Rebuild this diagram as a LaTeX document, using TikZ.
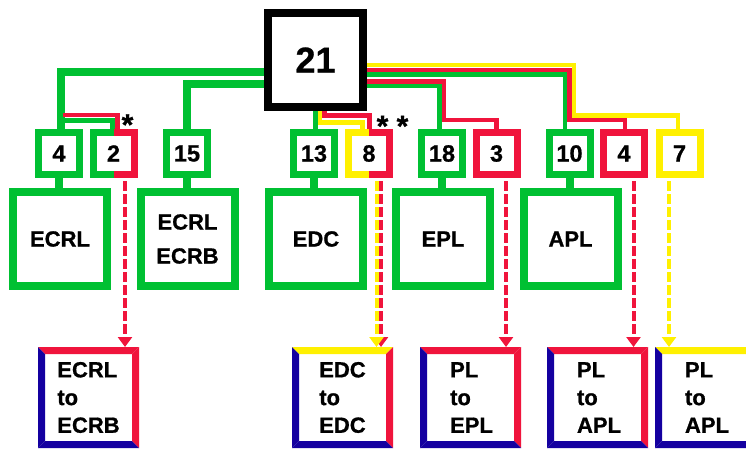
\documentclass[tikz,border=0pt]{standalone}
\usepackage{fontspec}
\setmainfont{Liberation Sans}[BoldFeatures={FakeBold=0.8}]
\usetikzlibrary{calc,arrows.meta}
\definecolor{cg}{RGB}{0,192,50}
\definecolor{cr}{RGB}{240,20,60}
\definecolor{cy}{RGB}{255,240,0}
\definecolor{cb}{RGB}{20,0,160}
% frame with four coloured sides: name, top, right, bottom, left
\newcommand\colframe[5]{%
  \fill[#2] (#1.north west) -- (#1.north east) -- ($(#1.north east)+(-7,7)$) -- ($(#1.north west)+(7,7)$) -- cycle;
  \fill[#3] (#1.north east) -- (#1.south east) -- ($(#1.south east)+(-7,-7)$) -- ($(#1.north east)+(-7,7)$) -- cycle;
  \fill[#4] (#1.south east) -- (#1.south west) -- ($(#1.south west)+(7,-7)$) -- ($(#1.south east)+(-7,-7)$) -- cycle;
  \fill[#5] (#1.south west) -- (#1.north west) -- ($(#1.north west)+(7,7)$) -- ($(#1.south west)+(7,-7)$) -- cycle;
}
% small box drawn in two halves: name, left colour, right colour
\newcommand\halfbox[3]{%
  \draw[#2,line width=7pt] ($(#1.north)+(0,3.5)$) -- ($(#1.north west)+(3.5,3.5)$) -- ($(#1.south west)+(3.5,-3.5)$) -- ($(#1.south)+(0,-3.5)$);
  \draw[#3,line width=7pt] ($(#1.north)+(0,3.5)$) -- ($(#1.north east)+(-3.5,3.5)$) -- ($(#1.south east)+(-3.5,-3.5)$) -- ($(#1.south)+(0,-3.5)$);
}
\begin{document}
\begin{tikzpicture}[x=1pt,y=-1pt,
  sbox/.style={draw, line width=7pt, minimum width=41pt, minimum height=42pt, inner sep=0pt,
    font=\fontsize{23.5}{24}\selectfont\bfseries},
  bigbox/.style={draw=cg, line width=8pt, minimum size=94pt, inner sep=0pt, align=center,
    font=\fontsize{22}{34}\selectfont\bfseries},
  botbox/.style={minimum size=101pt, inner sep=0pt, outer sep=0pt, align=left,
    font=\fontsize{22}{27.7}\selectfont\bfseries},
  gthick/.style={draw=cg, line width=8pt},
  gline/.style={draw=cg, line width=4.6pt},
  rline/.style={draw=cr, line width=4.6pt},
  yline/.style={draw=cy, line width=4.6pt},
  rdash/.style={draw=cr, line width=4pt, dash pattern=on 10pt off 3pt, -{Triangle[width=14pt,length=10pt]}},
  ydash/.style={draw=cy, line width=4pt, dash pattern=on 10pt off 3pt, -{Triangle[width=14pt,length=10pt]}},
  astx/.style={anchor=base, inner sep=0pt, font=\fontsize{30}{30}\selectfont\bfseries}
]
\clip (0,0) rectangle (746,450);
\fill[white] (0,0) rectangle (746,450);

% top box
\node[draw=black, line width=8pt, minimum width=95pt, minimum height=94pt, inner sep=0pt,
  font=\fontsize{36}{38}\selectfont\bfseries] (n21) at (315.5,60) {21};

% small boxes
\node[sbox, draw=cg] (b4) at (59,153.5) {4};
\node[sbox, draw=none] (b2) at (113.5,153.5) {2};
\node[sbox, draw=cg] (b15) at (187,153.5) {15};
\node[sbox, draw=cg] (b13) at (314,153.5) {13};
\node[sbox, draw=none] (b8) at (369,153.5) {8};
\node[sbox, draw=cg] (b18) at (442,153.5) {18};
\node[sbox, draw=cr] (b3) at (496.5,153.5) {3};
\node[sbox, draw=cg] (b10) at (569.5,153.5) {10};
\node[sbox, draw=cr] (b4r) at (624,153.5) {4};
\node[sbox, draw=cy] (b7) at (679.5,153.5) {7};
\halfbox{b2}{cg}{cr}
\halfbox{b8}{cy}{cr}

% big boxes
\node[bigbox] (g1) at (60,239) {ECRL};
\node[bigbox] (g2) at (187.5,239) {ECRL\\ECRB};
\node[bigbox] (g3) at (316,239) {EDC};
\node[bigbox] (g4) at (443,239) {EPL};
\node[bigbox] (g5) at (570.5,239) {APL};

% bottom boxes
\node[botbox] (f1) at (88.5,397.5) {ECRL\\to\\ECRB};
\node[botbox] (f2) at (342.5,397.5) {EDC\\to\\EDC};
\node[botbox] (f3) at (470.5,397.5) {\hspace*{2pt}PL\\\hspace*{2pt}to\\\hspace*{2pt}EPL};
\node[botbox] (f4) at (597.5,397.5) {\hspace*{3pt}PL\\\hspace*{3pt}to\\\hspace*{3pt}APL};
\node[botbox] (f5) at (705.5,397.5) {\hspace*{3pt}PL\\\hspace*{3pt}to\\\hspace*{3pt}APL};
\colframe{f1}{cr}{cr}{cb}{cb}
\colframe{f2}{cy}{cr}{cb}{cb}
\colframe{f3}{cr}{cr}{cb}{cb}
\colframe{f4}{cr}{cr}{cb}{cb}
\colframe{f5}{cy}{cy}{cb}{cb}

% asterisks
\node[astx] (s1) at (127.5,135) {*};
\node[astx] (s2) at (392.5,136.4) {* *};

% left connectors
\draw[gthick] (n21.west |- 0,72) -| ([xshift=2pt]b4.north);
\draw[gthick] (n21.west |- 0,83.5) -| (b15.north);
\draw[gline] ([xshift=4pt]b4.north |- 0,120.5) -| ([xshift=-1pt]b2.north);
\draw[rline] ([xshift=4pt]b4.north |- 0,115) -| ([xshift=4pt]b2.north);

% connectors below the top box
\draw[gline] ([xshift=1.5pt]b13.north |- n21.south) -- ([xshift=1.5pt]b13.north);
\draw[yline] ([xshift=6pt]b13.north |- n21.south) |- ([xshift=-6.5pt]b8.north |- 0,122.5) -- ([xshift=-6.5pt]b8.north);
\draw[rline] ([xshift=10.5pt]b13.north |- n21.south) |- ([xshift=0.5pt]b8.north |- 0,115.5) -- ([xshift=0.5pt]b8.north);

% right bundle A
\draw[yline] (n21.east |- 0,65) -| ([xshift=4.5pt]b10.north |- 0,115.5) -| ([xshift=-1.5pt]b7.north);
\draw[rline] (n21.east |- 0,70) -| (b10.north |- 0,120) -| ([xshift=1pt]b4r.north);
\draw[gline] (n21.east |- 0,74.5) -| ([xshift=-4.5pt]b10.north);

% right bundle B
\draw[rline] (n21.east |- 0,81.5) -| ([xshift=2pt]b18.north |- 0,120) -| (b3.north);
\draw[gline] (n21.east |- 0,86) -| ([xshift=-2.5pt]b18.north);

% stubs small -> big
\draw[gthick] (b4.south) -- (b4.south |- g1.north);
\draw[gthick] (b15.south) -- (b15.south |- g2.north);
\draw[gthick] (b13.south) -- (b13.south |- g3.north);
\draw[gthick] (b18.south) -- (b18.south |- g4.north);
\draw[gthick] (b10.south) -- (b10.south |- g5.north);

% dashed arrows
\draw[rdash] ([xshift=11.5pt,yshift=-3pt]b2.south) -- ([xshift=11.5pt]b2.south |- f1.north);
\draw[rdash] ([xshift=12pt,yshift=-3pt]b8.south) -- ([xshift=12pt]b8.south |- f2.north);
\draw[ydash] ([xshift=7.5pt,yshift=-3pt]b8.south) -- ([xshift=7.5pt]b8.south |- f2.north);
\draw[rdash] ([xshift=9.5pt,yshift=-3pt]b3.south) -- ([xshift=9.5pt]b3.south |- f3.north);
\draw[rdash] ([xshift=9.5pt,yshift=-3pt]b4r.south) -- ([xshift=9.5pt]b4r.south |- f4.north);
\draw[ydash] ([xshift=-10.5pt,yshift=-3pt]b7.south) -- ([xshift=-10.5pt]b7.south |- f5.north);
\end{tikzpicture}
\end{document}
